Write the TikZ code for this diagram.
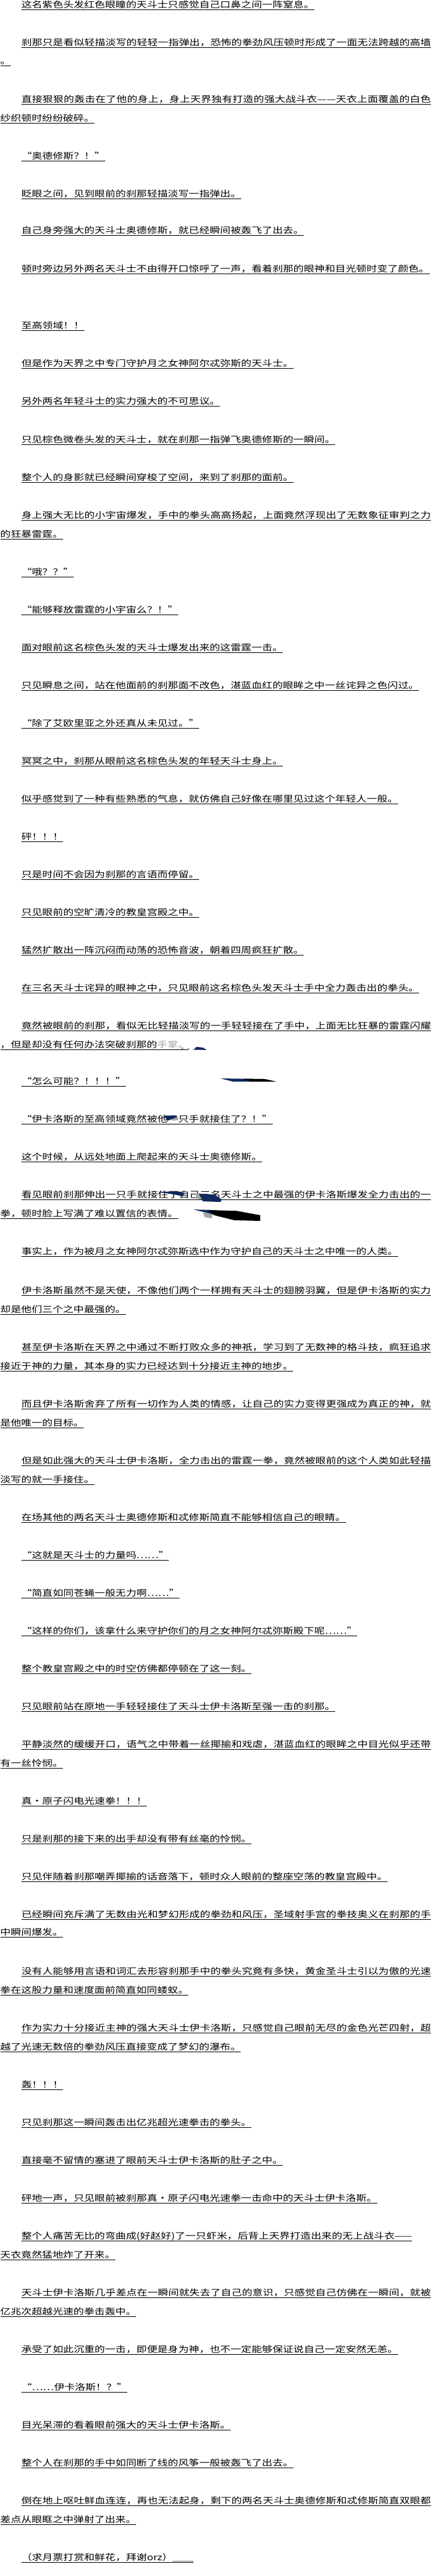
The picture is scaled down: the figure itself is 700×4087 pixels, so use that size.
\documentclass[tikz,border=0pt]{standalone}
\usepackage{fontspec}
\newfontfamily\cjk[FakeStretch=1.23]{Noto Sans CJK SC}
\usepackage{xcolor}
\definecolor{navyb}{RGB}{16,40,92}
\definecolor{fadeg}{RGB}{165,165,165}
\def\Jend{JEND-MARKER}
\def\Jspread#1{\Jfirst#1\Jend}
\def\Jfirst#1{#1\Jrest}
\def\Jrest#1{\ifx#1\Jend\else\hfil#1\expandafter\Jrest\fi}
\tikzset{
  txt/.style={anchor=base west,inner sep=0pt,outer sep=0pt,font=\cjk\fontsize{13.5}{15}\selectfont,text=black},
  uline/.style={draw=black,line width=0.9pt},
  brush/.style={fill=navyb,draw=none},
  brushk/.style={fill=black,draw=none},
  brushg/.style={fill=gray!70,draw=none}
}
% name, x, underline y, text
\newcommand\myline[4]{%
  \node[txt] (#1) at (#2,#3-2.5) {#4};
  \draw[uline] ([yshift=-2.5pt]#1.base west) -- ([yshift=-2.5pt]#1.base east);}
% name, underline y, text (justified full line)
\newcommand\myfull[3]{%
  \node[txt] (#1) at (34,#2-2.5) {\hbox to 650pt{\Jspread{#3}}};
  \draw[uline] ([yshift=-2.5pt]#1.base west) -- ([yshift=-2.5pt]#1.base east);}
\begin{document}
\begin{tikzpicture}[x=1pt,y=-1pt]
\fill[white] (0,0) rectangle (700,4087);
\useasboundingbox (0,0) rectangle (700,4087);
\myline{p1}{34}{15}{这名紫色头发红色眼瞳的天斗士只感觉自己口鼻之间一阵窒息。}
\myfull{p2}{75}{刹那只是看似轻描淡写的轻轻一指弹出，恐怖的拳劲风压顿时形成了一面无法跨越的高墙}
\myline{p3}{0.5}{104}{。}
\myfull{p4}{165}{直接狠狠的轰击在了他的身上，身上天界独有打造的强大战斗衣——天衣上面覆盖的白色}
\myline{p5}{0.5}{195}{纱织顿时纷纷破碎。}
\myline{p6}{34}{255}{“奥德修斯？！”}
\myline{p7}{34}{315}{眨眼之间，见到眼前的刹那轻描淡写一指弹出。}
\myline{p8}{34}{373}{自己身旁强大的天斗士奥德修斯，就已经瞬间被轰飞了出去。}
\myline{p9}{34}{434}{顿时旁边另外两名天斗士不由得开口惊呼了一声，看着刹那的眼神和目光顿时变了颜色。}
\myline{p10}{34}{524}{至高领域！！}
\myline{p11}{34}{584}{但是作为天界之中专门守护月之女神阿尔忒弥斯的天斗士。}
\myline{p12}{34}{644}{另外两名年轻斗士的实力强大的不可思议。}
\myline{p13}{34}{705}{只见棕色微卷头发的天斗士，就在刹那一指弹飞奥德修斯的一瞬间。}
\myline{p14}{34}{765}{整个人的身影就已经瞬间穿梭了空间，来到了刹那的面前。}
\myfull{p15}{825}{身上强大无比的小宇宙爆发，手中的拳头高高扬起，上面竟然浮现出了无数象征审判之力}
\myline{p16}{0.5}{855}{的狂暴雷霆。}
\myline{p17}{34}{915}{“哦？？”}
\myline{p18}{34}{975}{“能够释放雷霆的小宇宙么？！”}
\myline{p19}{34}{1035}{面对眼前这名棕色头发的天斗士爆发出来的这雷霆一击。}
\myline{p20}{34}{1095}{只见瞬息之间，站在他面前的刹那面不改色，湛蓝血红的眼眸之中一丝诧异之色闪过。}
\myline{p21}{34}{1155}{“除了艾欧里亚之外还真从未见过。”}
\myline{p22}{34}{1215}{冥冥之中，刹那从眼前这名棕色头发的年轻天斗士身上。}
\myline{p23}{34}{1275}{似乎感觉到了一种有些熟悉的气息，就仿佛自己好像在哪里见过这个年轻人一般。}
\myline{p24}{34}{1335}{砰！！！}
\myline{p25}{34}{1395}{只是时间不会因为刹那的言语而停留。}
\myline{p26}{34}{1455}{只见眼前的空旷清冷的教皇宫殿之中。}
\myline{p27}{34}{1515}{猛然扩散出一阵沉闷而动荡的恐怖音波，朝着四周疯狂扩散。}
\myline{p28}{34}{1575}{在三名天斗士诧异的眼神之中，只见眼前这名棕色头发天斗士手中全力轰击出的拳头。}
\myfull{p29}{1635}{竟然被眼前的刹那，看似无比轻描淡写的一手轻轻接在了手中，上面无比狂暴的雷霆闪耀}
\myline{p30}{0.5}{1665}{，但是却没有任何办法突破刹那的{\color{fadeg}手掌。}}
\myline{p31}{34}{1723}{“怎么可能？！！！”}
\myline{p32}{34}{1783}{“伊卡洛斯的至高领域竟然被他一只手就接住了？！”}
\myline{p33}{34}{1843}{这个时候，从远处地面上爬起来的天斗士奥德修斯。}
\myfull{p34}{1903}{看见眼前刹那伸出一只手就接住了自己三名天斗士之中最强的伊卡洛斯爆发全力击出的一}
\myline{p35}{0.5}{1933}{拳，顿时脸上写满了难以置信的表情。}
\myline{p36}{34}{1993}{事实上，作为被月之女神阿尔忒弥斯选中作为守护自己的天斗士之中唯一的人类。}
\myfull{p37}{2055}{伊卡洛斯虽然不是天使，不像他们两个一样拥有天斗士的翅膀羽翼，但是伊卡洛斯的实力}
\myline{p38}{0.5}{2085}{却是他们三个之中最强的。}
\myfull{p39}{2145}{甚至伊卡洛斯在天界之中通过不断打败众多的神祇，学习到了无数神的格斗技，疯狂追求}
\myline{p40}{0.5}{2175}{接近于神的力量，其本身的实力已经达到十分接近主神的地步。}
\myfull{p41}{2235}{而且伊卡洛斯舍弃了所有一切作为人类的情感，让自己的实力变得更强成为真正的神，就}
\myline{p42}{0.5}{2265}{是他唯一的目标。}
\myfull{p43}{2325}{但是如此强大的天斗士伊卡洛斯，全力击出的雷霆一拳，竟然被眼前的这个人类如此轻描}
\myline{p44}{0.5}{2355}{淡写的就一手接住。}
\myline{p45}{34}{2415}{在场其他的两名天斗士奥德修斯和忒修斯简直不能够相信自己的眼睛。}
\myline{p46}{34}{2475}{“这就是天斗士的力量吗……”}
\myline{p47}{34}{2535}{“简直如同苍蝇一般无力啊……”}
\myline{p48}{34}{2595}{“这样的你们，该拿什么来守护你们的月之女神阿尔忒弥斯殿下呢……”}
\myline{p49}{34}{2655}{整个教皇宫殿之中的时空仿佛都停顿在了这一刻。}
\myline{p50}{34}{2715}{只见眼前站在原地一手轻轻接住了天斗士伊卡洛斯至强一击的刹那。}
\myfull{p51}{2775}{平静淡然的缓缓开口，语气之中带着一丝揶揄和戏虐，湛蓝血红的眼眸之中目光似乎还带}
\myline{p52}{0.5}{2805}{有一丝怜悯。}
\myline{p53}{34}{2865}{真·原子闪电光速拳！！！}
\myline{p54}{34}{2925}{只是刹那的接下来的出手却没有带有丝毫的怜悯。}
\myline{p55}{34}{2985}{只见伴随着刹那嘲弄揶揄的话音落下，顿时众人眼前的整座空荡的教皇宫殿中。}
\myfull{p56}{3045}{已经瞬间充斥满了无数由光和梦幻形成的拳劲和风压，圣域射手宫的拳技奥义在刹那的手}
\myline{p57}{0.5}{3073}{中瞬间爆发。}
\myfull{p58}{3135}{没有人能够用言语和词汇去形容刹那手中的拳头究竟有多快，黄金圣斗士引以为傲的光速}
\myline{p59}{0.5}{3165}{拳在这股力量和速度面前简直如同蝼蚁。}
\myfull{p60}{3225}{作为实力十分接近主神的强大天斗士伊卡洛斯，只感觉自己眼前无尽的金色光芒四射，超}
\myline{p61}{0.5}{3255}{越了光速无数倍的拳劲风压直接变成了梦幻的瀑布。}
\myline{p62}{34}{3315}{轰！！！}
\myline{p63}{34}{3375}{只见刹那这一瞬间轰击出亿兆超光速拳击的拳头。}
\myline{p64}{34}{3435}{直接毫不留情的塞进了眼前天斗士伊卡洛斯的肚子之中。}
\myline{p65}{34}{3495}{砰地一声，只见眼前被刹那真·原子闪电光速拳一击命中的天斗士伊卡洛斯。}
\myline{p66}{34}{3555}{整个人痛苦无比的弯曲成(好赵好)了一只虾米，后背上天界打造出来的无上战斗衣——}
\myline{p67}{0.5}{3585}{天衣竟然猛地炸了开来。}
\myfull{p68}{3645}{天斗士伊卡洛斯几乎差点在一瞬间就失去了自己的意识，只感觉自己仿佛在一瞬间，就被}
\myline{p69}{0.5}{3675}{亿兆次超越光速的拳击轰中。}
\myline{p70}{34}{3735}{承受了如此沉重的一击，即便是身为神，也不一定能够保证说自己一定安然无恙。}
\myline{p71}{34}{3795}{“……伊卡洛斯！？”}
\myline{p72}{34}{3855}{目光呆滞的看着眼前强大的天斗士伊卡洛斯。}
\myline{p73}{34}{3915}{整个人在刹那的手中如同断了线的风筝一般被轰飞了出去。}
\myfull{p74}{3975}{倒在地上呕吐鲜血连连，再也无法起身，剩下的两名天斗士奥德修斯和忒修斯简直双眼都}
\myline{p75}{0.5}{4005}{差点从眼眶之中弹射了出来。}
\myline{p76}{34}{4065}{（求月票打赏和鲜花，拜谢orz）＿＿}
% brush-stroke artefacts
\fill[brushg] (288,1662) rectangle (291,1665);
\fill[brushg] (298,1663) rectangle (301,1665);
\fill[brush] (307,1665.5) -- (312,1661) -- (322,1662) -- (328,1665.8) -- cycle;
\fill[brush] (350,1711) -- (420,1712) -- (438,1716) -- (370,1716) -- cycle;
\fill[brushk] (385,1711.5) -- (420,1712) -- (438,1716) -- (398,1716) -- cycle;
\fill[brushg] (272,1772) -- (282,1771) -- (283,1777) -- (274,1778) -- cycle;
\fill[brush] (260,1770) -- (280,1769.5) -- (281,1772) -- (272,1776) -- (266,1778) -- cycle;
\fill[brush] (250,1891) -- (282,1890) -- (293,1893) -- (290,1898) -- (276,1895) -- cycle;
\fill[brushg] (310,1893) -- (318,1893) -- (320,1903) -- (312,1902) -- cycle;
\fill[brush] (316,1894) -- (340,1895) -- (352,1903) -- (350,1907) -- (322,1906) -- cycle;
\fill[brushg] (322,1924) -- (338,1925) -- (336,1933) -- (325,1931) -- cycle;
\fill[brush] (307,1919) -- (345,1920) -- (340,1927) -- cycle;
\fill[brushk] (330,1920) -- (375,1921) -- (413,1928) -- (413,1937) -- (372,1936) -- (340,1928) -- cycle;
\end{tikzpicture}
\end{document}
